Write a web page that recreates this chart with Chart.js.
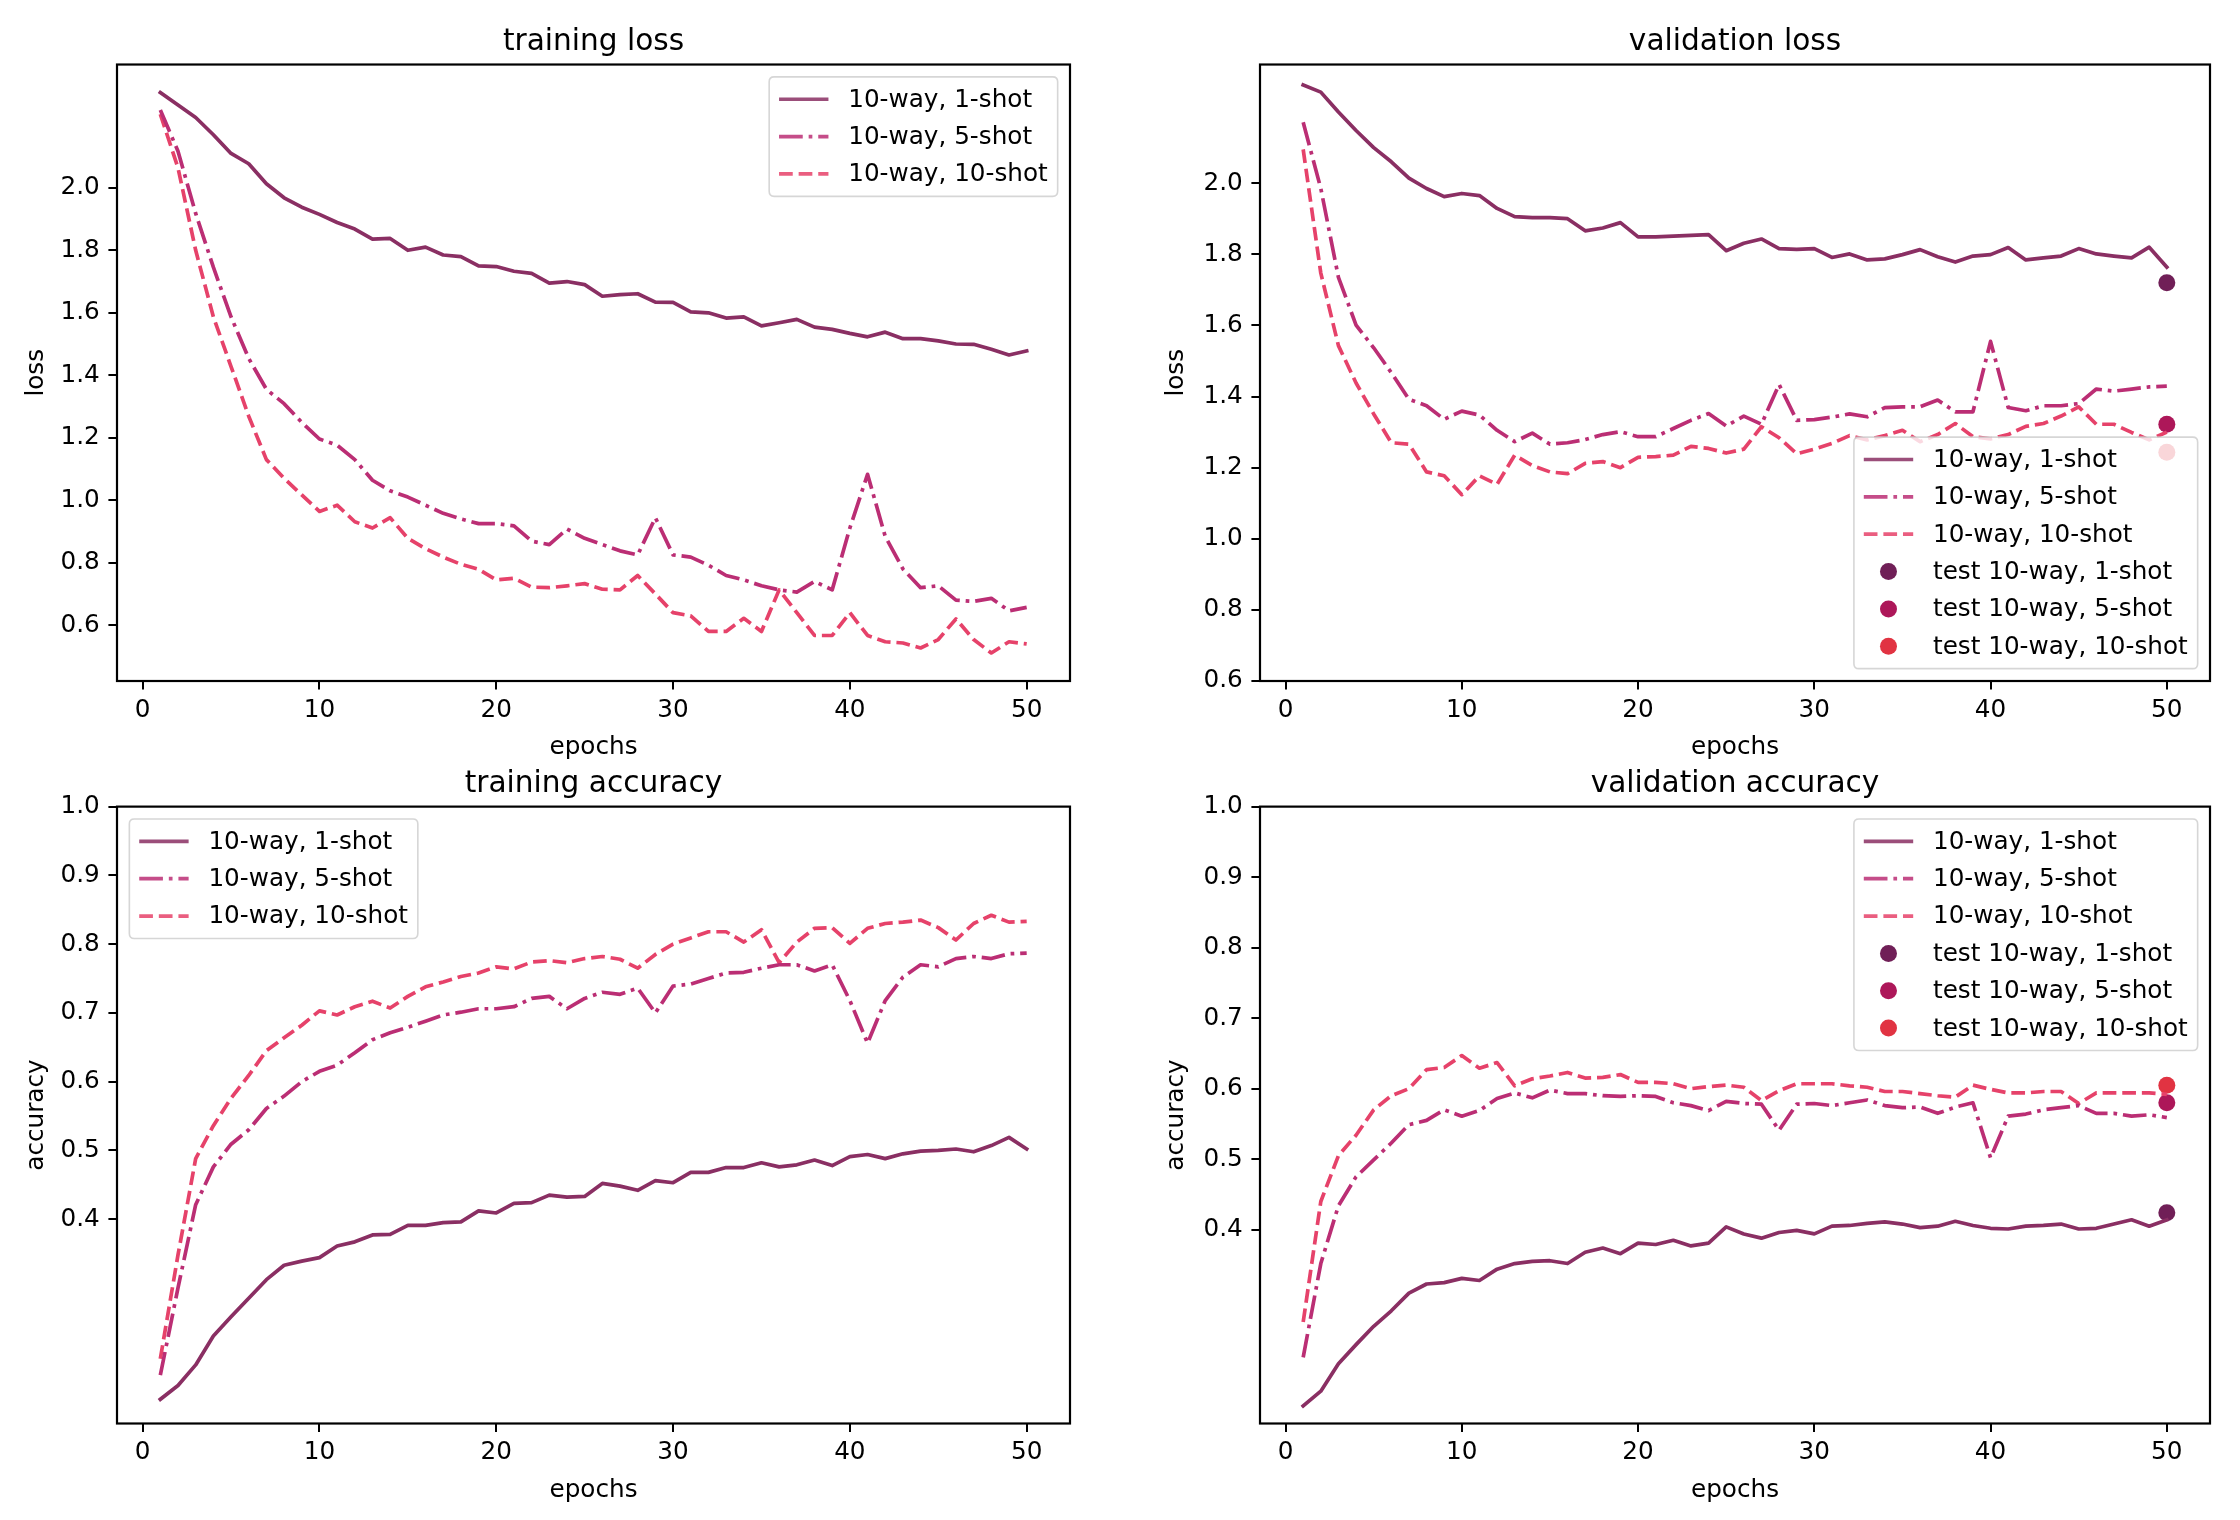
<!DOCTYPE html>
<html>
<head>
<meta charset="utf-8">
<script src="https://cdn.jsdelivr.net/npm/chart.js@4.4.1/dist/chart.umd.min.js"></script>
<style>
html, body { margin: 0; padding: 0; background: #ffffff; }
#wrap { position: relative; width: 2240px; height: 1520px; background: #ffffff; overflow: hidden; }
#wrap canvas { position: absolute; }
</style>
</head>
<body>
<div id="wrap">
  <canvas id="c1" width="1120" height="760" style="left:0px;top:0px;"></canvas>
  <canvas id="c2" width="1120" height="760" style="left:1120px;top:0px;"></canvas>
  <canvas id="c3" width="1120" height="760" style="left:0px;top:760px;"></canvas>
  <canvas id="c4" width="1120" height="760" style="left:1120px;top:760px;"></canvas>
</div>
<script>
// ---------------- DATA ----------------
const epochs = [1,2,3,4,5,6,7,8,9,10,11,12,13,14,15,16,17,18,19,20,21,22,23,24,25,26,27,28,29,30,31,32,33,34,35,36,37,38,39,40,41,42,43,44,45,46,47,48,49,50];
const xTicks = [0, 10, 20, 30, 40, 50];
const lossTicks = [0.6, 0.8, 1.0, 1.2, 1.4, 1.6, 1.8, 2.0];
const accTicks = [0.4, 0.5, 0.6, 0.7, 0.8, 0.9, 1.0];
const seriesLabels = ['10-way, 1-shot', '10-way, 5-shot', '10-way, 10-shot'];
const testLabels = ['test 10-way, 1-shot', 'test 10-way, 5-shot', 'test 10-way, 10-shot'];
const testEpoch = 50;

const trainLoss1 = [2.305,2.265,2.225,2.17,2.11,2.077,2.013,1.968,1.938,1.915,1.889,1.868,1.836,1.838,1.80,1.81,1.785,1.78,1.75,1.748,1.733,1.726,1.695,1.70,1.69,1.653,1.658,1.661,1.634,1.633,1.603,1.60,1.583,1.587,1.558,1.568,1.579,1.554,1.547,1.534,1.523,1.538,1.517,1.517,1.51,1.50,1.499,1.483,1.465,1.478];
const trainLoss5 = [2.249,2.117,1.918,1.746,1.587,1.454,1.355,1.309,1.249,1.196,1.176,1.13,1.064,1.03,1.01,0.984,0.958,0.94,0.925,0.925,0.918,0.869,0.858,0.908,0.878,0.858,0.838,0.825,0.944,0.825,0.818,0.792,0.759,0.745,0.726,0.713,0.706,0.74,0.713,0.911,1.083,0.884,0.78,0.72,0.726,0.68,0.676,0.686,0.646,0.657];
const trainLoss10 = [2.236,2.064,1.80,1.587,1.428,1.269,1.13,1.07,1.017,0.964,0.984,0.931,0.911,0.944,0.878,0.845,0.818,0.795,0.779,0.745,0.75,0.722,0.72,0.726,0.733,0.715,0.713,0.759,0.70,0.64,0.63,0.58,0.58,0.622,0.58,0.713,0.64,0.567,0.567,0.64,0.567,0.547,0.543,0.527,0.554,0.62,0.554,0.511,0.547,0.54];

const valLoss1 = [2.276,2.256,2.20,2.148,2.10,2.06,2.014,1.985,1.962,1.971,1.965,1.929,1.906,1.903,1.903,1.90,1.866,1.874,1.889,1.849,1.849,1.851,1.853,1.855,1.81,1.831,1.843,1.816,1.814,1.816,1.791,1.801,1.784,1.787,1.799,1.813,1.793,1.778,1.795,1.799,1.819,1.784,1.79,1.795,1.816,1.801,1.795,1.79,1.82,1.764];
const valLoss5 = [2.171,1.985,1.735,1.601,1.537,1.467,1.392,1.374,1.336,1.359,1.348,1.305,1.273,1.297,1.266,1.27,1.279,1.293,1.301,1.287,1.287,1.31,1.333,1.352,1.317,1.345,1.322,1.434,1.333,1.335,1.342,1.351,1.343,1.369,1.371,1.371,1.39,1.357,1.357,1.555,1.369,1.36,1.374,1.374,1.38,1.421,1.415,1.421,1.427,1.429];
const valLoss10 = [2.095,1.747,1.543,1.438,1.351,1.27,1.266,1.188,1.177,1.124,1.177,1.153,1.235,1.206,1.188,1.183,1.212,1.217,1.2,1.229,1.231,1.235,1.26,1.254,1.241,1.252,1.315,1.284,1.239,1.252,1.268,1.29,1.278,1.29,1.305,1.273,1.293,1.324,1.287,1.281,1.293,1.316,1.324,1.345,1.371,1.322,1.322,1.299,1.278,1.30];
const valLossTest = [1.72, 1.322, 1.243];

const trainAcc1 = [0.138,0.158,0.188,0.23,0.258,0.285,0.312,0.333,0.339,0.344,0.361,0.367,0.377,0.378,0.391,0.391,0.395,0.396,0.412,0.409,0.423,0.424,0.435,0.432,0.433,0.452,0.448,0.442,0.456,0.453,0.468,0.468,0.475,0.475,0.482,0.476,0.479,0.486,0.478,0.491,0.494,0.488,0.495,0.499,0.50,0.502,0.498,0.507,0.519,0.502];
const trainAcc5 = [0.173,0.30,0.421,0.476,0.509,0.53,0.561,0.579,0.60,0.615,0.624,0.642,0.661,0.671,0.679,0.688,0.697,0.701,0.706,0.706,0.709,0.721,0.724,0.706,0.721,0.73,0.727,0.736,0.70,0.739,0.742,0.75,0.758,0.759,0.765,0.77,0.77,0.761,0.77,0.718,0.656,0.718,0.752,0.77,0.767,0.779,0.782,0.779,0.786,0.787];
const trainAcc10 = [0.197,0.348,0.488,0.536,0.576,0.609,0.645,0.664,0.682,0.703,0.697,0.709,0.717,0.707,0.724,0.738,0.745,0.753,0.758,0.767,0.764,0.774,0.776,0.773,0.779,0.782,0.778,0.765,0.785,0.80,0.809,0.818,0.818,0.803,0.821,0.773,0.803,0.823,0.824,0.801,0.823,0.83,0.832,0.835,0.824,0.806,0.83,0.842,0.832,0.833];

const valAcc1 = [0.15,0.171,0.21,0.237,0.263,0.285,0.31,0.323,0.325,0.331,0.328,0.344,0.352,0.355,0.356,0.352,0.368,0.374,0.366,0.381,0.379,0.385,0.377,0.381,0.404,0.394,0.388,0.396,0.399,0.394,0.405,0.406,0.409,0.411,0.408,0.403,0.405,0.412,0.406,0.402,0.401,0.405,0.406,0.408,0.401,0.402,0.408,0.414,0.405,0.414];
const valAcc5 = [0.219,0.352,0.434,0.475,0.499,0.523,0.549,0.555,0.57,0.561,0.569,0.586,0.594,0.587,0.598,0.593,0.593,0.59,0.589,0.59,0.589,0.58,0.576,0.569,0.582,0.579,0.578,0.541,0.578,0.579,0.576,0.58,0.584,0.576,0.573,0.574,0.565,0.574,0.58,0.502,0.561,0.564,0.57,0.573,0.576,0.565,0.565,0.561,0.563,0.559];
const valAcc10 = [0.269,0.44,0.505,0.534,0.57,0.59,0.60,0.627,0.63,0.647,0.629,0.637,0.604,0.614,0.618,0.623,0.615,0.616,0.62,0.609,0.609,0.607,0.60,0.603,0.605,0.602,0.583,0.597,0.607,0.607,0.607,0.604,0.602,0.596,0.596,0.593,0.59,0.588,0.605,0.599,0.594,0.594,0.596,0.596,0.579,0.594,0.594,0.594,0.594,0.592];
const valAccTest = [0.424, 0.58, 0.605];

// ---------------- STYLE ----------------
const FONT = '"DejaVu Sans", "Liberation Sans", sans-serif';
const FS = 24.7;          // 10pt
const TFS = 29.6;         // 12pt
const baseColors = ['#701f57', '#ad1759', '#e13342'];
const lineColors = ['#8a2f63', '#bb2e74', '#e6426a'];
const dashes = [[], [23.7, 5.9, 3.7, 5.9], [13.7, 5.9]];
const LW = 3.7;

function lineDatasets(arrs) {
  return arrs.map((arr, i) => ({
    label: seriesLabels[i],
    data: epochs.map((e, k) => ({ x: e, y: arr[k] })),
    borderColor: lineColors[i],
    backgroundColor: lineColors[i],
    borderWidth: LW,
    borderDash: dashes[i],
    borderCapStyle: i === 0 ? 'square' : 'butt',
    borderJoinStyle: 'round',
    pointRadius: 0,
    pointHoverRadius: 0,
    tension: 0,
    fill: false
  }));
}
function testDatasets(vals) {
  return vals.map((v, i) => ({
    label: testLabels[i],
    data: [{ x: testEpoch, y: v }],
    showLine: false,
    borderColor: baseColors[i],
    backgroundColor: baseColors[i],
    pointBackgroundColor: baseColors[i],
    pointBorderColor: baseColors[i],
    pointBorderWidth: 0,
    pointRadius: 8.5,
    pointHoverRadius: 8.5
  }));
}
function autoLim(arrs, fixedMin, fixedMax) {
  let lo = Infinity, hi = -Infinity;
  arrs.forEach(a => a.forEach(v => { lo = Math.min(lo, v); hi = Math.max(hi, v); }));
  const m = (hi - lo) * 0.05;
  return { min: fixedMin !== undefined ? fixedMin : lo - m, max: fixedMax !== undefined ? fixedMax : hi + m };
}
const xLim = autoLim([epochs]);

const framePlugin = {
  id: 'mplFrame',
  afterDatasetsDraw(chart) {
    const { ctx, chartArea: a } = chart;
    ctx.save();
    ctx.strokeStyle = '#000';
    ctx.lineWidth = 2.2;
    ctx.strokeRect(a.left, a.top, a.right - a.left, a.bottom - a.top);
    ctx.restore();
  }
};

const legendPlugin = {
  id: 'mplLegend',
  afterDraw(chart, args, opts) {
    const { ctx, chartArea: a } = chart;
    const fs = FS;
    const items = chart.data.datasets;
    ctx.save();
    ctx.font = fs + 'px ' + FONT;
    const textW = Math.max(...items.map(d => ctx.measureText(d.label).width));
    const bp = 0.4 * fs, ls = 0.5 * fs, hl = 2 * fs, htp = 0.8 * fs, bap = 0.5 * fs, rowH = 25;
    const w = 2 * bp + hl + htp + textW;
    const h = 2 * bp + items.length * rowH + (items.length - 1) * ls;
    let x, y;
    if (opts.loc === 'upper left') { x = a.left + bap; y = a.top + bap; }
    else if (opts.loc === 'lower right') { x = a.right - bap - w; y = a.bottom - bap - h; }
    else { x = a.right - bap - w; y = a.top + bap; }
    const r = 5;
    ctx.beginPath();
    ctx.moveTo(x + r, y);
    ctx.lineTo(x + w - r, y); ctx.quadraticCurveTo(x + w, y, x + w, y + r);
    ctx.lineTo(x + w, y + h - r); ctx.quadraticCurveTo(x + w, y + h, x + w - r, y + h);
    ctx.lineTo(x + r, y + h); ctx.quadraticCurveTo(x, y + h, x, y + h - r);
    ctx.lineTo(x, y + r); ctx.quadraticCurveTo(x, y, x + r, y);
    ctx.closePath();
    ctx.fillStyle = 'rgba(255,255,255,0.8)';
    ctx.fill();
    ctx.strokeStyle = 'rgba(204,204,204,0.8)';
    ctx.lineWidth = 1.6;
    ctx.stroke();
    items.forEach((d, i) => {
      const cy = y + bp + i * (rowH + ls) + rowH / 2;
      const hx = x + bp;
      if (d.showLine === false) {
        ctx.beginPath();
        ctx.fillStyle = d.pointBackgroundColor;
        ctx.arc(hx + hl / 2, cy, d.pointRadius, 0, Math.PI * 2);
        ctx.fill();
      } else {
        ctx.beginPath();
        ctx.setLineDash(d.borderDash || []);
        ctx.lineCap = 'butt';
        ctx.strokeStyle = d.borderColor;
        ctx.globalAlpha = 0.85;
        ctx.lineWidth = d.borderWidth;
        ctx.moveTo(hx, cy);
        ctx.lineTo(hx + hl, cy);
        ctx.stroke();
        ctx.globalAlpha = 1;
        ctx.setLineDash([]);
      }
      ctx.fillStyle = '#000';
      ctx.textAlign = 'left';
      ctx.textBaseline = 'middle';
      ctx.fillText(d.label, hx + hl + htp, cy + 1);
    });
    ctx.restore();
  }
};

function makeChart(id, cfg) {
  const tickFont = { family: FONT, size: FS };
  return new Chart(document.getElementById(id), {
    type: 'line',
    data: { datasets: cfg.datasets },
    options: {
      responsive: false,
      animation: false,
      events: [],
      devicePixelRatio: 1,
      layout: { padding: { left: 0, right: cfg.padRight, top: 0, bottom: cfg.padBottom } },
      plugins: {
        legend: { display: false },
        tooltip: { enabled: false },
        title: {
          display: true, text: cfg.title, fullSize: false, color: '#000',
          font: { family: FONT, size: TFS, weight: 'normal', lineHeight: 1.2 },
          padding: { top: cfg.titlePad[0], bottom: cfg.titlePad[1] }
        },
        mplLegend: { loc: cfg.legendLoc }
      },
      scales: {
        x: {
          type: 'linear', min: xLim.min, max: xLim.max,
          afterBuildTicks: s => { s.ticks = xTicks.map(v => ({ value: v })); },
          afterFit: s => { s.height = cfg.xAxisH; },
          grid: { display: true, drawOnChartArea: false, drawTicks: true, tickLength: 8.6, color: '#000', lineWidth: 2, tickWidth: 2 },
          border: { display: false },
          ticks: { font: tickFont, color: '#000', padding: 6, maxRotation: 0, autoSkip: false, callback: v => String(v) },
          title: { display: true, text: 'epochs', color: '#000', font: { family: FONT, size: FS, lineHeight: 1.2 }, padding: { top: 0, bottom: -2.8 } }
        },
        y: {
          type: 'linear', min: cfg.yLim.min, max: cfg.yLim.max,
          afterBuildTicks: s => { s.ticks = cfg.yTicks.map(v => ({ value: v })); },
          afterFit: s => { s.width = cfg.yAxisW; },
          grid: { display: true, drawOnChartArea: false, drawTicks: true, tickLength: 8.6, color: '#000', lineWidth: 2, tickWidth: 2 },
          border: { display: false },
          ticks: { font: tickFont, color: '#000', padding: 8.6, autoSkip: false, callback: v => Number(v).toFixed(1) },
          title: { display: true, text: cfg.yTitle, color: '#000', font: { family: FONT, size: FS, lineHeight: 1.2 }, padding: { top: cfg.yTitlePad, bottom: 0 } }
        }
      }
    },
    plugins: [framePlugin, legendPlugin]
  });
}

makeChart('c1', {
  title: 'training loss', yTitle: 'loss', yTicks: lossTicks,
  datasets: lineDatasets([trainLoss1, trainLoss5, trainLoss10]),
  yLim: autoLim([trainLoss1, trainLoss5, trainLoss10]),
  legendLoc: 'upper right',
  padRight: 50, padBottom: 0, xAxisH: 79, titlePad: [24.2, 4.8], yAxisW: 117, yTitlePad: 21.5
});
makeChart('c2', {
  title: 'validation loss', yTitle: 'loss', yTicks: lossTicks,
  datasets: lineDatasets([valLoss1, valLoss5, valLoss10]).concat(testDatasets(valLossTest)),
  yLim: autoLim([valLoss1, valLoss5, valLoss10, valLossTest], 0.6),
  legendLoc: 'lower right',
  padRight: 30, padBottom: 0, xAxisH: 79, titlePad: [24.2, 4.8], yAxisW: 140, yTitlePad: 41.5
});
makeChart('c3', {
  title: 'training accuracy', yTitle: 'accuracy', yTicks: accTicks,
  datasets: lineDatasets([trainAcc1, trainAcc5, trainAcc10]),
  yLim: autoLim([trainAcc1, trainAcc5, trainAcc10], undefined, 1.0),
  legendLoc: 'upper left',
  padRight: 50, padBottom: 17, xAxisH: 79.5, titlePad: [6.6, 4.5], yAxisW: 117, yTitlePad: 21.5
});
makeChart('c4', {
  title: 'validation accuracy', yTitle: 'accuracy', yTicks: accTicks,
  datasets: lineDatasets([valAcc1, valAcc5, valAcc10]).concat(testDatasets(valAccTest)),
  yLim: autoLim([valAcc1, valAcc5, valAcc10, valAccTest], undefined, 1.0),
  legendLoc: 'upper right',
  padRight: 30, padBottom: 17, xAxisH: 79.5, titlePad: [6.6, 4.5], yAxisW: 140, yTitlePad: 41.5
});
</script>
</body>
</html>
